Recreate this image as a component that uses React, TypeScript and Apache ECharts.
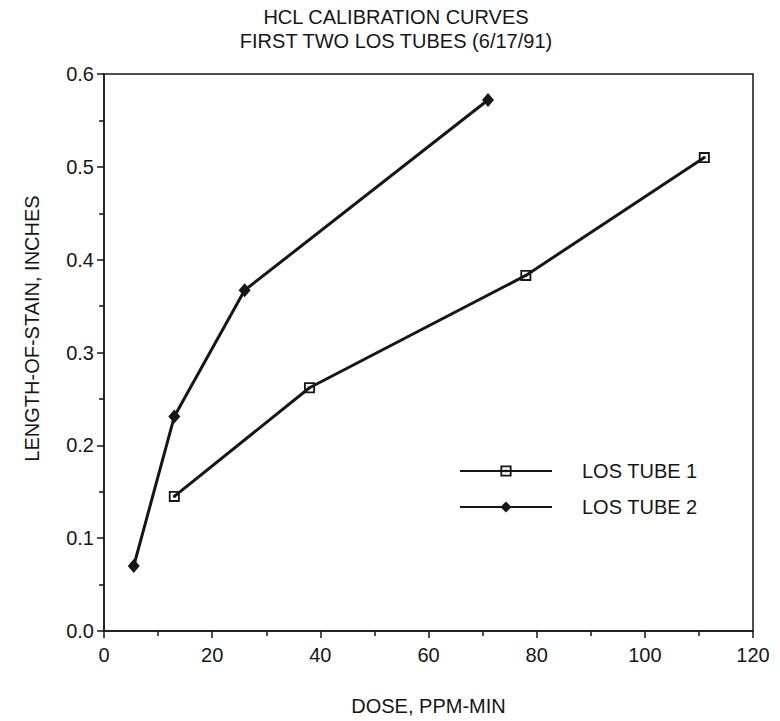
import React, { useEffect, useRef } from "react";
import * as echarts from "echarts";

const titleLines = ["HCL CALIBRATION CURVES", "FIRST TWO LOS TUBES (6/17/91)"];
const xAxisName = "DOSE, PPM-MIN";
const yAxisName = "LENGTH-OF-STAIN, INCHES";
const seriesNames = ["LOS TUBE 1", "LOS TUBE 2"];

const tube1Dose = [13, 38, 78, 111];
const tube1Length = [0.145, 0.262, 0.383, 0.51];
const tube2Dose = [5.5, 13, 26, 71];
const tube2Length = [0.07, 0.231, 0.367, 0.572];

const FONT = "'Liberation Sans', Arial, Helvetica, sans-serif";
const INK = "#161616";
const squareSymbol =
  "path://M0,0H12V12H0Z M2,2V10H10V2Z M4.6,4.6H7.4V7.4H4.6Z";

export default function App() {
  const ref = useRef<HTMLDivElement>(null);
  useEffect(() => {
    if (!ref.current) return;
    document.body.style.margin = "0";
    const chart = echarts.init(ref.current, null, { renderer: "svg" });
    const pair = (xs: number[], ys: number[]) => xs.map((x, i) => [x, ys[i]]);
    chart.setOption({
      animation: false,
      backgroundColor: "#ffffff",
      title: {
        text: titleLines.join("\n"),
        left: 391,
        top: 0,
        textAlign: "center",
        textStyle: {
          fontFamily: FONT,
          fontSize: 20,
          fontWeight: "normal",
          color: INK,
          lineHeight: 24,
        },
      },
      legend: {
        orient: "vertical",
        left: 454,
        top: 456,
        itemWidth: 92,
        itemHeight: 14,
        itemGap: 16,
        textStyle: {
          fontFamily: FONT,
          fontSize: 20,
          color: INK,
          padding: [0, 0, 0, 25],
        },
        data: seriesNames,
      },
      grid: {
        left: 104,
        right: 27,
        top: 74,
        bottom: 81,
        show: true,
        borderColor: INK,
        borderWidth: 1.5,
        backgroundColor: "transparent",
      },
      xAxis: {
        type: "value",
        min: 0,
        max: 120,
        interval: 20,
        name: xAxisName,
        nameLocation: "middle",
        nameGap: 65,
        nameTextStyle: { fontFamily: FONT, fontSize: 20, color: INK },
        axisLine: { show: true, lineStyle: { color: INK, width: 1.5 } },
        axisTick: { show: true, length: 7, lineStyle: { color: INK, width: 1.5 } },
        minorTick: { show: true, splitNumber: 2, length: 5, lineStyle: { color: INK, width: 1.5 } },
        axisLabel: { fontFamily: FONT, fontSize: 20, color: INK, margin: 14 },
        splitLine: { show: false },
      },
      yAxis: {
        type: "value",
        min: 0,
        max: 0.6,
        interval: 0.1,
        name: yAxisName,
        nameLocation: "middle",
        nameGap: 62,
        nameTextStyle: {
          fontFamily: FONT,
          fontSize: 20,
          color: INK,
          padding: [0, 0, 0, 48],
        },
        axisLine: { show: true, lineStyle: { color: INK, width: 1.5 } },
        axisTick: { show: true, length: 7, lineStyle: { color: INK, width: 1.5 } },
        minorTick: { show: true, splitNumber: 2, length: 5, lineStyle: { color: INK, width: 1.5 } },
        axisLabel: {
          fontFamily: FONT,
          fontSize: 20,
          color: INK,
          margin: 10,
          formatter: (v: number) => v.toFixed(1),
        },
        splitLine: { show: false },
      },
      series: [
        {
          name: seriesNames[0],
          type: "line",
          data: pair(tube1Dose, tube1Length),
          symbol: squareSymbol,
          symbolSize: 11,
          showAllSymbol: true,
          lineStyle: { color: INK, width: 3 },
          itemStyle: { color: INK, borderWidth: 0 },
        },
        {
          name: seriesNames[1],
          type: "line",
          data: pair(tube2Dose, tube2Length),
          symbol: "diamond",
          symbolSize: [12, 14],
          showAllSymbol: true,
          lineStyle: { color: INK, width: 3 },
          itemStyle: { color: INK, borderWidth: 0 },
        },
      ],
    });
    return () => chart.dispose();
  }, []);
  return <div ref={ref} style={{ width: 780, height: 721 }} />;
}
